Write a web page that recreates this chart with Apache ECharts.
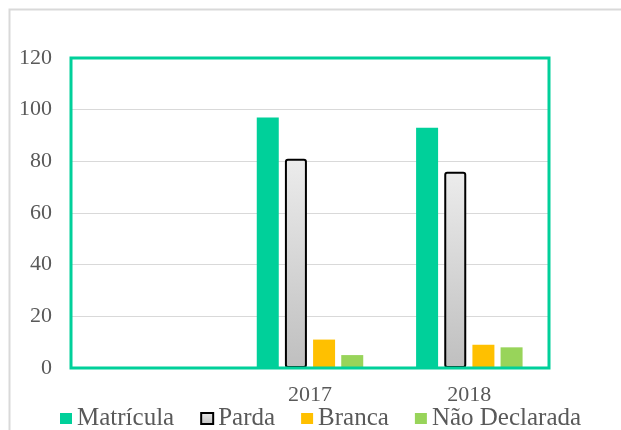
<!DOCTYPE html>
<html>
<head>
<meta charset="utf-8">
<script src="https://cdn.jsdelivr.net/npm/echarts@6/dist/echarts.min.js"></script>
<style>
html,body{margin:0;padding:0;background:#fff;}
#c{width:621px;height:430px;}
</style>
</head>
<body>
<div id="c"></div>
<script>
var categories = ['', '2017', '2018'];
var matricula = [null, 97, 93];
var parda = [null, 81, 76];
var branca = [null, 11, 9];
var naoDeclarada = [null, 5, 8];
var yTicks = [0, 20, 40, 60, 80, 100, 120];
var seriesNames = ['Matrícula', 'Parda', 'Branca', 'Não Declarada'];

var chart = echarts.init(document.getElementById('c'), null, {renderer: 'canvas'});
var font = 'Liberation Serif';
var gridL = 71, gridT = 58, gridR = 72, gridB = 62;
chart.setOption({
  animation: false,
  grid: {left: gridL, top: gridT, right: gridR, bottom: gridB},
  legend: {
    left: 55, top: 401,
    itemWidth: 12, itemHeight: 11, itemGap: 26,
    icon: 'rect',
    textStyle: {fontFamily: font, fontSize: 25, color: '#595959'},
    data: seriesNames
  },
  xAxis: {
    type: 'category',
    data: categories,
    axisLine: {show: true, lineStyle: {color: '#5fdcbd', width: 2}},
    axisTick: {show: false},
    axisLabel: {fontFamily: font, fontSize: 22, color: '#595959', margin: 16}
  },
  yAxis: {
    type: 'value',
    min: yTicks[0], max: yTicks[yTicks.length - 1], interval: 20,
    axisLine: {show: false},
    axisTick: {show: false},
    axisLabel: {fontFamily: font, fontSize: 22, color: '#595959', margin: 19},
    splitLine: {lineStyle: {color: '#d9d9d9', width: 1}}
  },
  series: [
    {name: seriesNames[0], type: 'bar', data: matricula, barWidth: 22, barGap: '28%',
     itemStyle: {color: '#00d09a'}},
    {name: seriesNames[1], type: 'bar', data: parda, barWidth: 22,
     itemStyle: {
       color: new echarts.graphic.LinearGradient(0, 0, 0, 1, [
         {offset: 0, color: '#ececec'}, {offset: 1, color: '#bfbfbf'}]),
       borderColor: '#000', borderWidth: 2, borderRadius: 2
     }},
    {name: seriesNames[2], type: 'bar', data: branca, barWidth: 22,
     itemStyle: {color: '#ffc000'}},
    {name: seriesNames[3], type: 'bar', data: naoDeclarada, barWidth: 22,
     itemStyle: {color: '#98d45a'}}
  ]
});
var W = chart.getWidth(), H = chart.getHeight();
chart.setOption({
  graphic: [
    {type: 'rect', silent: true, z: -10,
     shape: {x: 9.5, y: 9.5, width: W + 50, height: H + 50},
     style: {fill: 'none', stroke: '#d9d9d9', lineWidth: 2}},
    {type: 'rect', silent: true, z: 10,
     shape: {x: gridL, y: gridT, width: W - gridL - gridR, height: H - gridT - gridB},
     style: {fill: 'none', stroke: '#00d09a', lineWidth: 3}}
  ]
});
</script>
</body>
</html>
